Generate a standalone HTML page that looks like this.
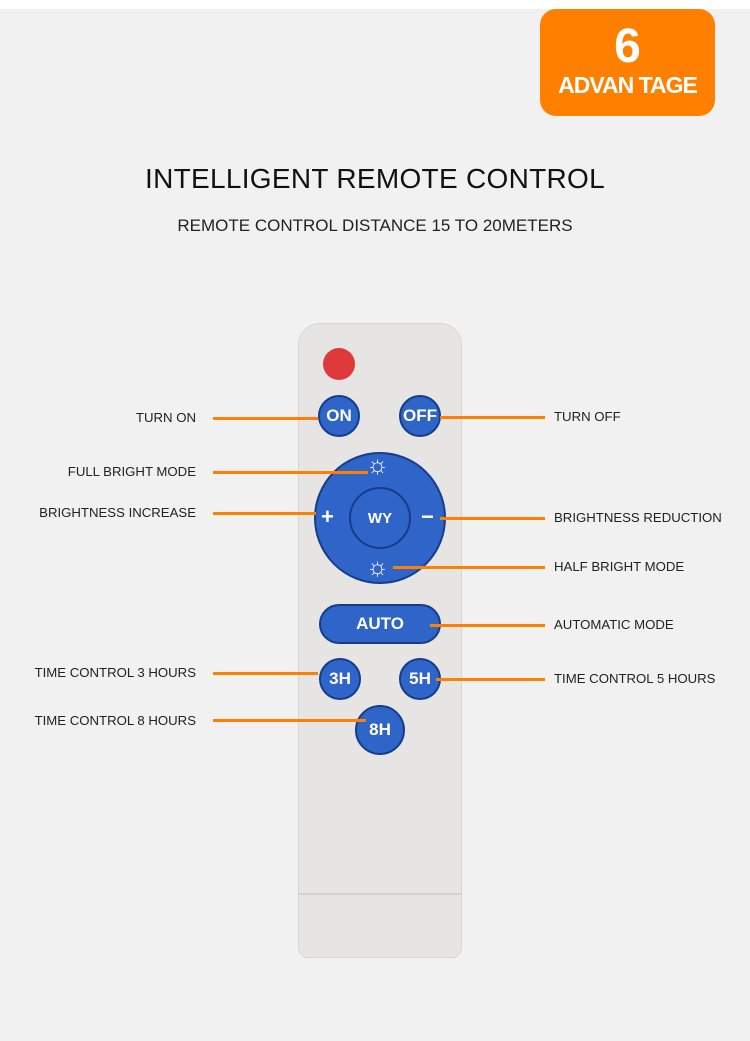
<!DOCTYPE html><html><head><style>
body{margin:0;width:750px;height:1041px;background:#f1f1f1;position:relative;overflow:hidden;font-family:"Liberation Sans",sans-serif}
.a{position:absolute}
.l{position:absolute;height:3px;background:#ff8000}
.t{position:absolute;font-size:13.2px;color:#222;white-space:nowrap;line-height:16px}
.tl{right:554px}
.tr{left:554px}
.b{position:absolute;border-radius:50%;background:#2f64c8;border:2px solid #173d8a;box-sizing:border-box;color:#fff;font-weight:bold;display:flex;align-items:center;justify-content:center;font-size:17px}
</style></head><body>
<div class="a" style="left:0;top:0;width:750px;height:9px;background:#fff"></div>
<div class="a" style="left:540px;top:9px;width:175px;height:107px;background:#ff8000;border-radius:16px;color:#fff;font-weight:bold;text-align:center">
<div style="font-size:48px;line-height:50px;margin-top:13px">6</div>
<div style="font-size:23px;line-height:26px;letter-spacing:-1px">ADVAN TAGE</div></div>
<div class="a" style="left:0;width:750px;top:163px;text-align:center;font-size:28px;color:#111;letter-spacing:0.3px">INTELLIGENT REMOTE CONTROL</div>
<div class="a" style="left:0;width:750px;top:216px;text-align:center;font-size:17px;color:#222">REMOTE CONTROL DISTANCE 15 TO 20METERS</div>
<div class="a" style="left:298px;top:323px;width:164px;height:635px;background:#e6e5e3;border:1px solid #d8d6d4;box-sizing:border-box;border-radius:22px 22px 10px 10px"></div>
<div class="a" style="left:299px;top:893px;width:162px;height:2px;background:#d5d3d1"></div>
<div class="a" style="left:323px;top:348px;width:32px;height:32px;border-radius:50%;background:#e0393b"></div>
<div class="b" style="left:318px;top:395px;width:42px;height:42px">ON</div>
<div class="b" style="left:399px;top:395px;width:42px;height:42px">OFF</div>
<div class="b" style="left:314px;top:452px;width:132px;height:132px;background:#2f64c8"></div>
<div class="a" style="left:366px;top:451px;color:#fff;font-size:25px">☼</div>
<div class="a" style="left:366px;top:553px;color:#fff;font-size:25px">☼</div>
<div class="a" style="left:321px;top:504px;color:#fff;font-size:22px;font-weight:bold">+</div>
<div class="a" style="left:421px;top:504px;color:#fff;font-size:22px;font-weight:bold">−</div>
<div class="b" style="left:349px;top:487px;width:62px;height:62px;font-size:15px">WY</div>
<div class="b" style="left:319px;top:604px;width:122px;height:40px;border-radius:20px">AUTO</div>
<div class="b" style="left:319px;top:658px;width:42px;height:42px">3H</div>
<div class="b" style="left:399px;top:658px;width:42px;height:42px">5H</div>
<div class="b" style="left:355px;top:705px;width:50px;height:50px">8H</div>
<div class="l" style="left:213px;width:105px;top:417px"></div>
<div class="l" style="left:440px;width:105px;top:416px"></div>
<div class="l" style="left:213px;width:155px;top:471px"></div>
<div class="l" style="left:213px;width:103px;top:512px"></div>
<div class="l" style="left:440px;width:105px;top:517px"></div>
<div class="l" style="left:393px;width:152px;top:566px"></div>
<div class="l" style="left:430px;width:115px;top:624px"></div>
<div class="l" style="left:213px;width:105px;top:672px"></div>
<div class="l" style="left:436px;width:109px;top:678px"></div>
<div class="l" style="left:213px;width:153px;top:719px"></div>
<div class="t tl" style="top:410px">TURN ON</div>
<div class="t tr" style="top:409px">TURN OFF</div>
<div class="t tl" style="top:464px">FULL BRIGHT MODE</div>
<div class="t tl" style="top:505px">BRIGHTNESS INCREASE</div>
<div class="t tr" style="top:510px">BRIGHTNESS REDUCTION</div>
<div class="t tr" style="top:559px">HALF BRIGHT MODE</div>
<div class="t tr" style="top:617px">AUTOMATIC MODE</div>
<div class="t tl" style="top:665px">TIME CONTROL 3 HOURS</div>
<div class="t tr" style="top:671px">TIME CONTROL 5 HOURS</div>
<div class="t tl" style="top:713px">TIME CONTROL 8 HOURS</div>
</body></html>
